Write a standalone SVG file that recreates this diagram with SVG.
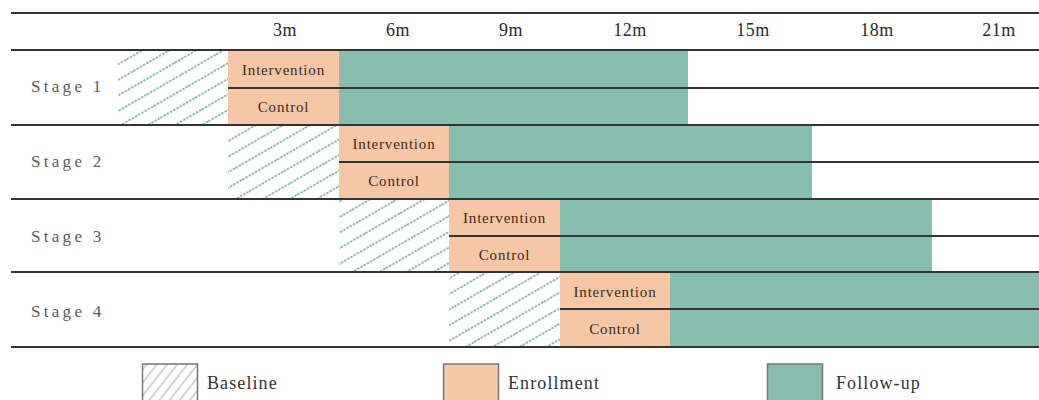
<svg xmlns="http://www.w3.org/2000/svg" width="1039" height="400" viewBox="0 0 1039 400">
<style>
.hdr{font-family:"Liberation Serif",serif;font-size:18px;fill:#2a2a2a;text-anchor:middle;letter-spacing:0.5px}
.stg{font-family:"Liberation Serif",serif;font-size:17px;fill:#5a5a5a;letter-spacing:3.3px}
.cell{font-family:"Liberation Serif",serif;font-size:15px;fill:#3a2a22;text-anchor:middle;letter-spacing:0.8px}
.leg{font-family:"Liberation Serif",serif;font-size:18px;fill:#333;letter-spacing:1.1px}
.enr{fill:#f6c7a6}
.fol{fill:#87bdaf}
.base{fill:url(#hatch)}
.ln{stroke:#333;stroke-width:1.8;fill:none}
.lbox{stroke:#777;stroke-width:1.5}
</style>
<defs>
<pattern id="hatch" patternUnits="userSpaceOnUse" width="40" height="13.5" patternTransform="rotate(-30)">
<line x1="0" y1="6.75" x2="40" y2="6.75" stroke="#5e9c8c" stroke-width="1.6" stroke-dasharray="2.4 1.3"/>
</pattern>
<pattern id="hatchL" patternUnits="userSpaceOnUse" width="20" height="8" patternTransform="rotate(-52)">
<line x1="0" y1="4" x2="20" y2="4" stroke="#b5b5b5" stroke-width="1.2"/>
</pattern>
</defs>
<rect width="1039" height="400" fill="#fff"/>

<g id="header">
<text class="hdr" x="285" y="36">3m</text>
<text class="hdr" x="398" y="36">6m</text>
<text class="hdr" x="511" y="36">9m</text>
<text class="hdr" x="630" y="36">12m</text>
<text class="hdr" x="753" y="36">15m</text>
<text class="hdr" x="877" y="36">18m</text>
<text class="hdr" x="999" y="36">21m</text>
</g>

<g id="stage1">
<rect class="base" x="118" y="51" width="110" height="73"/>
<rect class="enr" x="228" y="50" width="111" height="75"/>
<rect class="fol" x="339" y="50" width="349" height="75"/>
<text class="stg" x="31" y="92">Stage 1</text>
<text class="cell" x="283.5" y="75">Intervention</text>
<text class="cell" x="283.5" y="112">Control</text>
</g>

<g id="stage2">
<rect class="base" x="228" y="126" width="111" height="72"/>
<rect class="enr" x="339" y="125" width="110" height="74"/>
<rect class="fol" x="449" y="125" width="363" height="74"/>
<text class="stg" x="31" y="167">Stage 2</text>
<text class="cell" x="394" y="149">Intervention</text>
<text class="cell" x="394" y="186">Control</text>
</g>

<g id="stage3">
<rect class="base" x="339" y="200" width="110" height="71"/>
<rect class="enr" x="449" y="199" width="111" height="73"/>
<rect class="fol" x="560" y="199" width="372" height="73"/>
<text class="stg" x="31" y="242">Stage 3</text>
<text class="cell" x="504.5" y="223">Intervention</text>
<text class="cell" x="504.5" y="260">Control</text>
</g>

<g id="stage4">
<rect class="base" x="449" y="273" width="111" height="73"/>
<rect class="enr" x="560" y="272" width="110" height="75"/>
<rect class="fol" x="670" y="272" width="369" height="75"/>
<text class="stg" x="31" y="317">Stage 4</text>
<text class="cell" x="615" y="297">Intervention</text>
<text class="cell" x="615" y="334">Control</text>
</g>

<g id="grid">
<line class="ln" x1="11" y1="13" x2="1039" y2="13"/>
<line class="ln" x1="11" y1="50" x2="1039" y2="50"/>
<line class="ln" x1="228" y1="88" x2="1039" y2="88"/>
<line class="ln" x1="11" y1="125" x2="1039" y2="125"/>
<line class="ln" x1="339" y1="162" x2="1039" y2="162"/>
<line class="ln" x1="11" y1="199" x2="1039" y2="199"/>
<line class="ln" x1="449" y1="236" x2="1039" y2="236"/>
<line class="ln" x1="11" y1="272" x2="1039" y2="272"/>
<line class="ln" x1="560" y1="309" x2="1039" y2="309"/>
<line class="ln" x1="11" y1="347" x2="1039" y2="347"/>
</g>

<g id="legend-baseline">
<rect class="lbox" x="142.5" y="364" width="55" height="40" fill="url(#hatchL)"/>
<text class="leg" x="207" y="389">Baseline</text>
</g>
<g id="legend-enrollment">
<rect class="lbox enr" x="443.5" y="364" width="55" height="40"/>
<text class="leg" x="508" y="389">Enrollment</text>
</g>
<g id="legend-followup">
<rect class="lbox fol" x="767.5" y="364" width="55" height="40"/>
<text class="leg" x="836" y="389">Follow-up</text>
</g>
</svg>
